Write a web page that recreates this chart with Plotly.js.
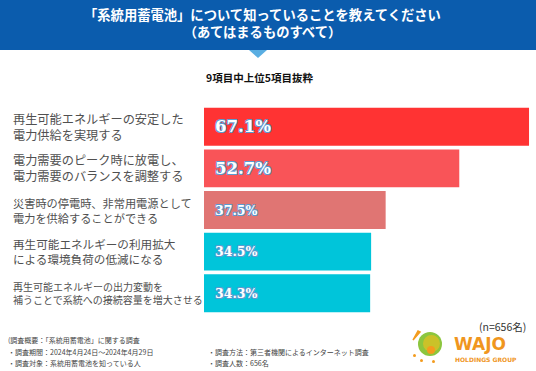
<!DOCTYPE html>
<html><head><meta charset="utf-8">
<script src="https://cdn.plot.ly/plotly-3.0.1.min.js"></script>
<style>html,body{margin:0;padding:0;background:#fff;}#chart{width:536px;height:371px;}</style>
</head><body><div id="chart"></div>
<script>
var categories = [
  "再生可能エネルギーの安定した<br>電力供給を実現する",
  "電力需要のピーク時に放電し、<br>電力需要のバランスを調整する",
  "災害時の停電時、非常用電源として<br>電力を供給することができる",
  "再生可能エネルギーの利用拡大<br>による環境負荷の低減になる",
  "再生可能エネルギーの出力変動を<br>補うことで系統への接続容量を増大させる"
];
var values = [67.1, 52.7, 37.5, 34.5, 34.3];
var valueLabels = ["67.1%", "52.7%", "37.5%", "34.5%", "34.3%"];
var titleText = "「系統用蓄電池」について知っていることを教えてください<br>（あてはまるものすべて）";
var subtitleText = "9項目中上位5項目抜粋";
var sampleText = "(n=656名)";
var notesLeft = ["(調査概要：「系統用蓄電池」に関する調査", "・調査期間：2024年4月24日〜2024年4月29日", "・調査対象：系統用蓄電池を知っている人"];
var notesRight = ["・調査方法：第三者機関によるインターネット調査", "・調査人数：656名"];

var barColors = ["#ff3333", "#f95458", "#e07573", "#00c5da", "#00c5da"];
var labelSizes = [12.2, 12.2, 11.2, 11.6, 10];
var valueSizes = [16.5, 16.5, 12.5, 12.5, 12.5];

var W = 536, H = 371, L = 204, R = 6, T = 106, B = 57;
var pw = W - L - R, ph = H - T - B;
function px(x){ return (x - L) / pw; }
function py(y){ return (H - B - y) / ph; }

var jp = "'Noto Sans CJK JP', 'Noto Sans', sans-serif";
var outline = "0.8px 0.8px 0 #5b9ad0, -0.8px -0.8px 0 #5b9ad0, 0.8px -0.8px 0 #5b9ad0, -0.8px 0.8px 0 #5b9ad0";

var trace = {
  type: "bar", orientation: "h",
  x: values, y: categories,
  marker: {color: barColors, line: {width: 0}},
  hoverinfo: "none"
};

var annotations = [];
categories.forEach(function(c, i){
  annotations.push({
    xref: "paper", x: px(11), yref: "y", y: c, xanchor: "left", yanchor: "middle",
    align: "left", showarrow: false, text: c,
    font: {family: jp, size: labelSizes[i], color: "#505050"}
  });
  annotations.push({
    xref: "x", x: 0, xshift: 9, yref: "y", y: c, xanchor: "left", yanchor: "middle",
    showarrow: false, text: valueLabels[i],
    font: {family: "'DejaVu Serif', serif", size: valueSizes[i], color: "#ffffff", weight: 700, shadow: outline}
  });
});
annotations.push({xref:"paper", yref:"paper", x: px(262), y: py(23), xanchor:"center", yanchor:"middle",
  showarrow:false, text: titleText, align:"center",
  font:{family: jp, size: 13.3, color:"#ffffff", weight: 700}});
annotations.push({xref:"paper", yref:"paper", x: px(259), y: py(77), xanchor:"center", yanchor:"middle",
  showarrow:false, text: subtitleText, font:{family: jp, size: 10.5, color:"#111111", weight: 700}});
annotations.push({xref:"paper", yref:"paper", x: px(528), y: py(326), xanchor:"right", yanchor:"middle",
  showarrow:false, text: sampleText, font:{family: jp, size: 10.5, color:"#333333"}});
notesLeft.forEach(function(t, i){
  annotations.push({xref:"paper", yref:"paper", x: px(6), y: py(340 + i*11.5), xanchor:"left", yanchor:"middle",
    showarrow:false, text: t, font:{family: jp, size: 7, color:"#444444"}});
});
notesRight.forEach(function(t, i){
  annotations.push({xref:"paper", yref:"paper", x: px(206), y: py(351.5 + i*11.5), xanchor:"left", yanchor:"middle",
    showarrow:false, text: t, font:{family: jp, size: 7, color:"#444444"}});
});
annotations.push({xref:"paper", yref:"paper", x: px(452), y: py(344), xanchor:"left", yanchor:"middle",
  showarrow:false, text: "WAJO", font:{family: "'DejaVu Sans', sans-serif", size: 17, color:"#f0961e", weight: 700}});
annotations.push({xref:"paper", yref:"paper", x: px(453), y: py(359), xanchor:"left", yanchor:"middle",
  showarrow:false, text: "HOLDINGS GROUP", font:{family: "'DejaVu Sans', sans-serif", size: 6, color:"#f0961e", weight: 700}});

var shapes = [
  {type:"rect", xref:"paper", yref:"paper", x0: px(0), x1: px(536), y0: py(50), y1: py(0),
    fillcolor:"#0b5cad", line:{width:0}, layer:"below"},
  {type:"path", xref:"paper", yref:"paper",
    path: "M " + px(249) + " " + py(50) + " L " + px(267) + " " + py(50) + " L " + px(258) + " " + py(58) + " Z",
    fillcolor:"#5aaee2", line:{width:0}},
  {type:"circle", xref:"paper", yref:"paper", x0: px(418), x1: px(442), y0: py(356), y1: py(332),
    fillcolor:"#8cc63e", line:{width:0}},
  {type:"circle", xref:"paper", yref:"paper", x0: px(423), x1: px(440), y0: py(352), y1: py(335),
    fillcolor:"#f4c01d", line:{width:0}, opacity: 0.6},
  {type:"circle", xref:"paper", yref:"paper", x0: px(427), x1: px(435), y0: py(354), y1: py(346),
    fillcolor:"#f39c1e", line:{width:0}},
  {type:"path", xref:"paper", yref:"paper",
    path: "M " + px(413) + " " + py(340) + " L " + px(418) + " " + py(331) + " L " + px(420) + " " + py(332) + " Z",
    fillcolor:"#f39c1e", line:{color:"#f39c1e", width:1.5}},
  {type:"circle", xref:"paper", yref:"paper", x0: px(413), x1: px(416), y0: py(357), y1: py(354),
    fillcolor:"#f39c1e", line:{width:0}},
  {type:"circle", xref:"paper", yref:"paper", x0: px(420), x1: px(423), y0: py(362), y1: py(359),
    fillcolor:"#f39c1e", line:{width:0}},
  {type:"circle", xref:"paper", yref:"paper", x0: px(432), x1: px(435), y0: py(363), y1: py(360),
    fillcolor:"#f39c1e", line:{width:0}}
];

var layout = {
  width: W, height: H,
  margin: {l: L, r: R, t: T, b: B, pad: 0},
  paper_bgcolor: "#ffffff", plot_bgcolor: "#ffffff",
  bargap: 0.09,
  showlegend: false,
  xaxis: {range: [0, 67.3], visible: false, fixedrange: true},
  yaxis: {autorange: "reversed", showticklabels: false, showgrid: false, zeroline: false, showline: false, ticks: "", fixedrange: true},
  annotations: annotations,
  shapes: shapes
};

Plotly.newPlot("chart", [trace], layout, {displayModeBar: false, staticPlot: true});
</script>
</body></html>
